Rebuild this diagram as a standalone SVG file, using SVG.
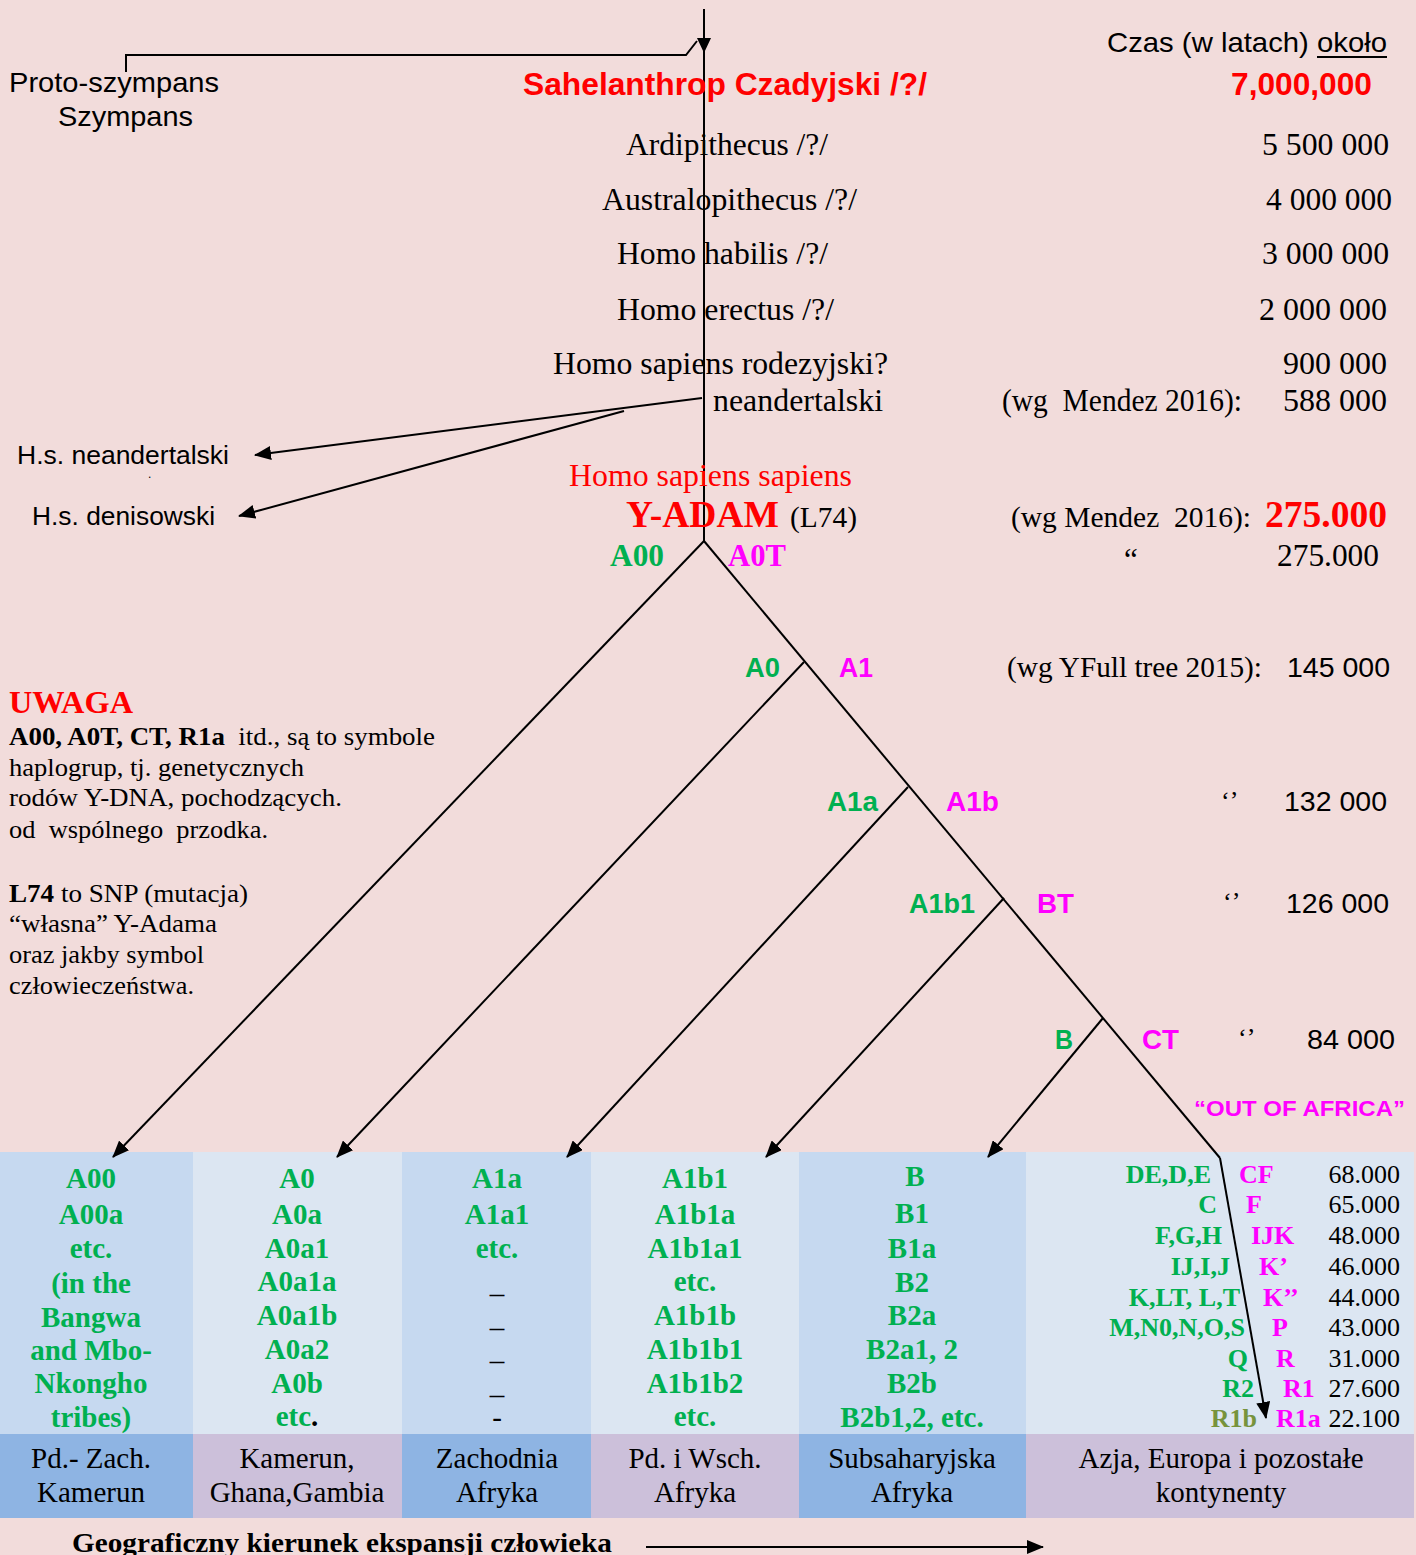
<svg xmlns="http://www.w3.org/2000/svg" width="1416" height="1555" viewBox="0 0 1416 1555">
<defs>
<marker id="arr" markerUnits="userSpaceOnUse" markerWidth="18" markerHeight="14" refX="16" refY="7" orient="auto">
<path d="M0,0 L17,7 L0,14 z" fill="#000"/>
</marker>
<style>
.s{font-family:"Liberation Sans",Arial,sans-serif;}
.r{font-family:"Liberation Serif","Times New Roman",serif;}
.b{font-weight:bold;}
.g{fill:#00b050;}
.m{fill:#ff00ff;}
.red{fill:#ff0000;}
.k{fill:#000;}
.ln{stroke:#000;stroke-width:2;fill:none;}
.cell{font-family:"Liberation Serif","Times New Roman",serif;font-weight:bold;font-size:29px;fill:#00b050;text-anchor:middle;}
.reg{font-family:"Liberation Serif","Times New Roman",serif;font-size:29px;fill:#000;text-anchor:middle;}
.c6g{font-family:"Liberation Serif","Times New Roman",serif;font-weight:bold;font-size:26px;fill:#00b050;text-anchor:end;}
.c6m{font-family:"Liberation Serif","Times New Roman",serif;font-weight:bold;font-size:26px;fill:#ff00ff;}
.c6n{font-family:"Liberation Serif","Times New Roman",serif;font-size:26px;fill:#000;text-anchor:end;}
</style>
</defs>
<rect x="0" y="0" width="1416" height="1555" fill="#f2dcdb"/>

<g id="table">
<rect x="0" y="1152" width="193" height="282" fill="#c6d9f0"/>
<rect x="193" y="1152" width="209" height="282" fill="#dce6f2"/>
<rect x="402" y="1152" width="189" height="282" fill="#c6d9f0"/>
<rect x="591" y="1152" width="208" height="282" fill="#dce6f2"/>
<rect x="799" y="1152" width="227" height="282" fill="#c6d9f0"/>
<rect x="1026" y="1152" width="388" height="282" fill="#dce6f2"/>
<rect x="0" y="1434" width="193" height="84" fill="#8eb4e3"/>
<rect x="193" y="1434" width="209" height="84" fill="#ccc0da"/>
<rect x="402" y="1434" width="189" height="84" fill="#8eb4e3"/>
<rect x="591" y="1434" width="208" height="84" fill="#ccc0da"/>
<rect x="799" y="1434" width="227" height="84" fill="#8eb4e3"/>
<rect x="1026" y="1434" width="388" height="84" fill="#ccc0da"/>
</g>

<g id="connectors">
<line class="ln" x1="704" y1="9" x2="704" y2="541"/>
<polygon points="697,38 711,38 704,53" fill="#000"/>
<polyline class="ln" points="126,72 126,55 686,55 697,41"/>
<line class="ln" x1="702" y1="398" x2="255" y2="455" marker-end="url(#arr)"/>
<line class="ln" x1="624" y1="411" x2="239" y2="516" marker-end="url(#arr)"/>
<line class="ln" x1="704" y1="541" x2="1220" y2="1158"/>
<line class="ln" x1="704" y1="541" x2="113" y2="1157" marker-end="url(#arr)"/>
<line class="ln" x1="804" y1="662" x2="337" y2="1157" marker-end="url(#arr)"/>
<line class="ln" x1="908" y1="787" x2="567" y2="1157" marker-end="url(#arr)"/>
<line class="ln" x1="1004" y1="898" x2="766" y2="1157" marker-end="url(#arr)"/>
<line class="ln" x1="1103" y1="1018" x2="988" y2="1157" marker-end="url(#arr)"/>
<line class="ln" x1="1220" y1="1158" x2="1266" y2="1418" marker-end="url(#arr)"/>
<line class="ln" x1="646" y1="1547" x2="1043" y2="1547" marker-end="url(#arr)"/>
</g>

<g id="chimp">
<text class="s k" x="9" y="92" font-size="28" textLength="210" lengthAdjust="spacingAndGlyphs">Proto-szympans</text>
<text class="s k" x="58" y="126" font-size="28" textLength="135" lengthAdjust="spacingAndGlyphs">Szympans</text>
</g>

<g id="timeline">
<text class="s k" x="1107" y="52" font-size="28" textLength="280" lengthAdjust="spacingAndGlyphs">Czas (w latach) około</text>
<line x1="1317" y1="57" x2="1387" y2="57" stroke="#000" stroke-width="2"/>
<text class="s b red" x="523" y="95" font-size="31" textLength="404" lengthAdjust="spacingAndGlyphs">Sahelanthrop Czadyjski /?/</text>
<text class="s b red" x="1231" y="95" font-size="31" textLength="141" lengthAdjust="spacingAndGlyphs">7,000,000</text>
<text class="r k" x="626" y="155" font-size="31" textLength="202" lengthAdjust="spacingAndGlyphs">Ardipithecus /?/</text>
<text class="r k" x="1262" y="155" font-size="31" textLength="127" lengthAdjust="spacingAndGlyphs">5 500 000</text>
<text class="r k" x="602" y="210" font-size="31" textLength="255" lengthAdjust="spacingAndGlyphs">Australopithecus /?/</text>
<text class="r k" x="1266" y="210" font-size="31" textLength="126" lengthAdjust="spacingAndGlyphs">4 000 000</text>
<text class="r k" x="617" y="264" font-size="31" textLength="211" lengthAdjust="spacingAndGlyphs">Homo habilis /?/</text>
<text class="r k" x="1262" y="264" font-size="31" textLength="127" lengthAdjust="spacingAndGlyphs">3 000 000</text>
<text class="r k" x="617" y="320" font-size="31" textLength="217" lengthAdjust="spacingAndGlyphs">Homo erectus /?/</text>
<text class="r k" x="1259" y="320" font-size="31" textLength="128" lengthAdjust="spacingAndGlyphs">2 000 000</text>
<text class="r k" x="553" y="374" font-size="31" textLength="335" lengthAdjust="spacingAndGlyphs">Homo sapiens rodezyjski?</text>
<text class="r k" x="1283" y="374" font-size="31" textLength="104" lengthAdjust="spacingAndGlyphs">900 000</text>
<text class="r k" x="713" y="411" font-size="31" textLength="170" lengthAdjust="spacingAndGlyphs">neandertalski</text>
<text class="r k" x="1002" y="411" font-size="31" textLength="240" lengthAdjust="spacingAndGlyphs" xml:space="preserve">(wg  Mendez 2016):</text>
<text class="r k" x="1283" y="411" font-size="31" textLength="104" lengthAdjust="spacingAndGlyphs">588 000</text>
</g>

<g id="archaic">
<text class="s k" x="17" y="464" font-size="25" textLength="212" lengthAdjust="spacingAndGlyphs">H.s. neandertalski</text>
<text class="s k" x="148" y="478" font-size="12">.</text>
<text class="s k" x="32" y="525" font-size="25" textLength="183" lengthAdjust="spacingAndGlyphs">H.s. denisowski</text>
</g>

<g id="yadam">
<text class="r red" x="569" y="486" font-size="31" textLength="283" lengthAdjust="spacingAndGlyphs">Homo sapiens sapiens</text>
<text class="r b red" x="626" y="527" font-size="37" textLength="153" lengthAdjust="spacingAndGlyphs">Y-ADAM</text>
<text class="r k" x="790" y="527" font-size="29" textLength="67" lengthAdjust="spacingAndGlyphs">(L74)</text>
<text class="r k" x="1011" y="527" font-size="29" textLength="240" lengthAdjust="spacingAndGlyphs" xml:space="preserve">(wg Mendez  2016):</text>
<text class="r b red" x="1265" y="527" font-size="37" textLength="122" lengthAdjust="spacingAndGlyphs">275.000</text>
<text class="r b g" x="610" y="566" font-size="31" textLength="54" lengthAdjust="spacingAndGlyphs">A00</text>
<text class="r b m" x="728" y="566" font-size="31" textLength="58" lengthAdjust="spacingAndGlyphs">A0T</text>
<text class="r k" x="1124" y="570" font-size="31">“</text>
<text class="r k" x="1277" y="566" font-size="31" textLength="102" lengthAdjust="spacingAndGlyphs">275.000</text>
</g>

<g id="n-a1">
<text class="s b g" x="745" y="677" font-size="27" textLength="35" lengthAdjust="spacingAndGlyphs">A0</text>
<text class="s b m" x="839" y="677" font-size="27" textLength="34" lengthAdjust="spacingAndGlyphs">A1</text>
<text class="r k" x="1007" y="677" font-size="29" textLength="255" lengthAdjust="spacingAndGlyphs">(wg YFull tree 2015):</text>
<text class="s k" x="1287" y="677" font-size="28" textLength="103" lengthAdjust="spacingAndGlyphs">145 000</text>
</g>

<g id="n-a1b">
<text class="s b g" x="827" y="811" font-size="27" textLength="51" lengthAdjust="spacingAndGlyphs">A1a</text>
<text class="s b m" x="946" y="811" font-size="27" textLength="53" lengthAdjust="spacingAndGlyphs">A1b</text>
<text class="r k" x="1221" y="809" font-size="26">‘’</text>
<text class="s k" x="1284" y="811" font-size="28" textLength="103" lengthAdjust="spacingAndGlyphs">132 000</text>
</g>

<g id="n-bt">
<text class="s b g" x="909" y="913" font-size="27" textLength="66" lengthAdjust="spacingAndGlyphs">A1b1</text>
<text class="s b m" x="1037" y="913" font-size="27" textLength="37" lengthAdjust="spacingAndGlyphs">BT</text>
<text class="r k" x="1223" y="910" font-size="26">‘’</text>
<text class="s k" x="1286" y="913" font-size="28" textLength="103" lengthAdjust="spacingAndGlyphs">126 000</text>
</g>

<g id="n-ct">
<text class="s b g" x="1055" y="1049" font-size="27" textLength="18" lengthAdjust="spacingAndGlyphs">B</text>
<text class="s b m" x="1142" y="1049" font-size="27" textLength="37" lengthAdjust="spacingAndGlyphs">CT</text>
<text class="r k" x="1238" y="1046" font-size="26">‘’</text>
<text class="s k" x="1307" y="1049" font-size="28" textLength="88" lengthAdjust="spacingAndGlyphs">84 000</text>
<text class="s b m" x="1194" y="1116" font-size="22" textLength="211" lengthAdjust="spacingAndGlyphs">“OUT OF AFRICA”</text>
</g>

<g id="note">
<text class="r b red" x="9" y="713" font-size="31" textLength="124" lengthAdjust="spacingAndGlyphs">UWAGA</text>
<text class="r k" x="9" y="745" font-size="26" textLength="426" lengthAdjust="spacingAndGlyphs" xml:space="preserve"><tspan font-weight="bold">A00, A0T, CT, R1a</tspan>  itd., są to symbole</text>
<text class="r k" x="9" y="776" font-size="26" textLength="295" lengthAdjust="spacingAndGlyphs">haplogrup, tj. genetycznych</text>
<text class="r k" x="9" y="806" font-size="26" textLength="333" lengthAdjust="spacingAndGlyphs">rodów Y-DNA, pochodzących.</text>
<text class="r k" x="9" y="838" font-size="26" textLength="259" lengthAdjust="spacingAndGlyphs" xml:space="preserve">od  wspólnego  przodka.</text>
<text class="r k" x="9" y="902" font-size="26" textLength="239" lengthAdjust="spacingAndGlyphs"><tspan font-weight="bold">L74</tspan> to SNP (mutacja)</text>
<text class="r k" x="9" y="932" font-size="26" textLength="208" lengthAdjust="spacingAndGlyphs">“własna” Y-Adama</text>
<text class="r k" x="9" y="963" font-size="26" textLength="195" lengthAdjust="spacingAndGlyphs">oraz jakby symbol</text>
<text class="r k" x="9" y="994" font-size="26" textLength="185" lengthAdjust="spacingAndGlyphs">człowieczeństwa.</text>
</g>

<g id="col-a00">
<text class="cell" x="91" y="1188">A00</text>
<text class="cell" x="91" y="1224">A00a</text>
<text class="cell" x="91" y="1258">etc.</text>
<text class="cell" x="91" y="1293">(in the</text>
<text class="cell" x="91" y="1327">Bangwa</text>
<text class="cell" x="91" y="1360">and Mbo-</text>
<text class="cell" x="91" y="1393">Nkongho</text>
<text class="cell" x="91" y="1427">tribes)</text>
<text class="reg" x="91" y="1468">Pd.- Zach.</text>
<text class="reg" x="91" y="1502">Kamerun</text>
</g>

<g id="col-a0">
<text class="cell" x="297" y="1188">A0</text>
<text class="cell" x="297" y="1224">A0a</text>
<text class="cell" x="297" y="1258">A0a1</text>
<text class="cell" x="297" y="1291">A0a1a</text>
<text class="cell" x="297" y="1325">A0a1b</text>
<text class="cell" x="297" y="1359">A0a2</text>
<text class="cell" x="297" y="1393">A0b</text>
<text class="cell" x="297" y="1426">etc<tspan fill="#000">.</tspan></text>
<text class="reg" x="297" y="1468">Kamerun,</text>
<text class="reg" x="297" y="1502">Ghana,Gambia</text>
</g>

<g id="col-a1a">
<text class="cell" x="497" y="1188">A1a</text>
<text class="cell" x="497" y="1224">A1a1</text>
<text class="cell" x="497" y="1258">etc.</text>
<text class="reg" x="497" y="1293">_</text>
<text class="reg" x="497" y="1327">_</text>
<text class="reg" x="497" y="1360">_</text>
<text class="reg" x="497" y="1394">_</text>
<text class="reg" x="497" y="1427">-</text>
<text class="reg" x="497" y="1468">Zachodnia</text>
<text class="reg" x="497" y="1502">Afryka</text>
</g>

<g id="col-a1b1">
<text class="cell" x="695" y="1188">A1b1</text>
<text class="cell" x="695" y="1224">A1b1a</text>
<text class="cell" x="695" y="1258">A1b1a1</text>
<text class="cell" x="695" y="1291">etc.</text>
<text class="cell" x="695" y="1325">A1b1b</text>
<text class="cell" x="695" y="1359">A1b1b1</text>
<text class="cell" x="695" y="1393">A1b1b2</text>
<text class="cell" x="695" y="1426">etc.</text>
<text class="reg" x="695" y="1468">Pd. i Wsch.</text>
<text class="reg" x="695" y="1502">Afryka</text>
</g>

<g id="col-b">
<text class="cell" x="915" y="1186">B</text>
<text class="cell" x="912" y="1223">B1</text>
<text class="cell" x="912" y="1258">B1a</text>
<text class="cell" x="912" y="1292">B2</text>
<text class="cell" x="912" y="1325">B2a</text>
<text class="cell" x="912" y="1359">B2a1, 2</text>
<text class="cell" x="912" y="1393">B2b</text>
<text class="cell" x="912" y="1427">B2b1,2, etc.</text>
<text class="reg" x="912" y="1468">Subsaharyjska</text>
<text class="reg" x="912" y="1502">Afryka</text>
</g>

<g id="col-rest">
<text class="c6g" x="1211" y="1183">DE,D,E</text>
<text class="c6m" x="1239" y="1183">CF</text>
<text class="c6n" x="1400" y="1183">68.000</text>
<text class="c6g" x="1217" y="1213">C</text>
<text class="c6m" x="1246" y="1213">F</text>
<text class="c6n" x="1400" y="1213">65.000</text>
<text class="c6g" x="1222" y="1244">F,G,H</text>
<text class="c6m" x="1251" y="1244">IJK</text>
<text class="c6n" x="1400" y="1244">48.000</text>
<text class="c6g" x="1230" y="1275">IJ,I,J</text>
<text class="c6m" x="1259" y="1275">K’</text>
<text class="c6n" x="1400" y="1275">46.000</text>
<text class="c6g" x="1240" y="1306">K,LT, L,T</text>
<text class="c6m" x="1263" y="1306">K’’</text>
<text class="c6n" x="1400" y="1306">44.000</text>
<text class="c6g" x="1245" y="1336">M,N0,N,O,S</text>
<text class="c6m" x="1272" y="1336">P</text>
<text class="c6n" x="1400" y="1336">43.000</text>
<text class="c6g" x="1248" y="1367">Q</text>
<text class="c6m" x="1276" y="1367">R</text>
<text class="c6n" x="1400" y="1367">31.000</text>
<text class="c6g" x="1254" y="1397">R2</text>
<text class="c6m" x="1283" y="1397">R1</text>
<text class="c6n" x="1400" y="1397">27.600</text>
<text class="c6g" x="1257" y="1427" fill="#77933c" style="fill:#77933c">R1b</text>
<text class="c6m" x="1276" y="1427">R1a</text>
<text class="c6n" x="1400" y="1427">22.100</text>
<text class="reg" x="1221" y="1468">Azja, Europa i pozostałe</text>
<text class="reg" x="1221" y="1502">kontynenty</text>
</g>

<g id="footer">
<text class="r b k" x="72" y="1552" font-size="28" textLength="540" lengthAdjust="spacingAndGlyphs">Geograficzny kierunek ekspansji człowieka</text>
</g>
</svg>
